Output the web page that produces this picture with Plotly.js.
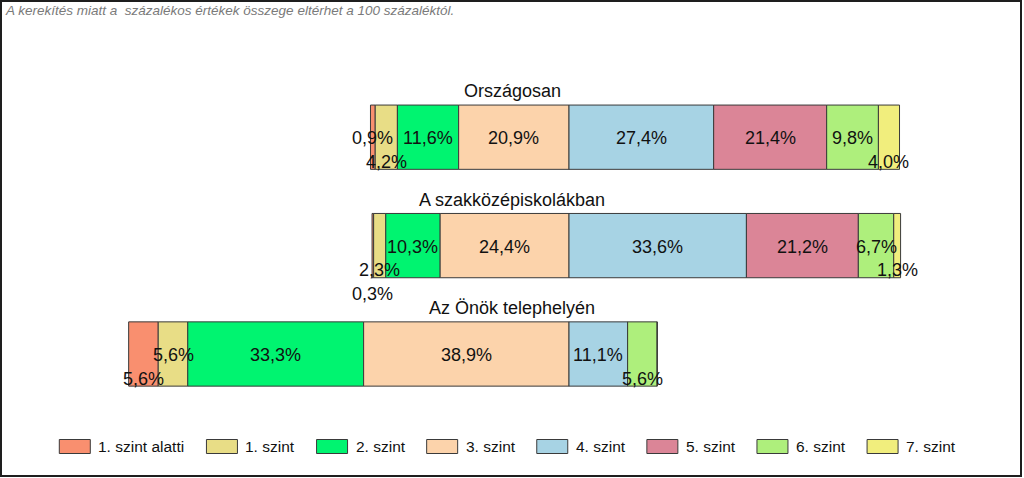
<!DOCTYPE html>
<html><head><meta charset="utf-8">
<script src="https://cdn.plot.ly/plotly-3.0.1.min.js"></script>
<style>html,body{margin:0;padding:0;background:#fff}#chart{width:1024px;height:478px}</style>
</head><body><div id="chart"></div>
<script>
// ---- data ----
const rows = ['Országosan', 'A szakközépiskolákban', 'Az Önök telephelyén'];
const levelNames = ['1. szint alatti', '1. szint', '2. szint', '3. szint', '4. szint', '5. szint', '6. szint', '7. szint'];
const below1 = [0.9, 0.3, 5.6];
const level1 = [4.2, 2.3, 5.6];
const level2 = [11.6, 10.3, 33.3];
const level3 = [20.9, 24.4, 38.9];
const level4 = [27.4, 33.6, 11.1];
const level5 = [21.4, 21.2, 0];
const level6 = [9.8, 6.7, 5.6];
const level7 = [4.0, 1.3, 0];
const note = 'A kerekítés miatt a  százalékos értékek összege eltérhet a 100 százaléktól.';

// ---- style / layout ----
const series = [below1, level1, level2, level3, level4, level5, level6, level7];
const colors = ['#F98F6F', '#E8DD86', '#00F470', '#FCD3AB', '#A7D3E4', '#DB8597', '#AEEF7C', '#F1EE7D'];
const alignCount = 4; // bars aligned at the 3./4. szint boundary
const FONT = '"Liberation Sans", Arial, sans-serif';
const W = 1024, H = 478;
const M = {l: 0, r: 0, t: 83, b: 66};
const plotW = W - M.l - M.r, plotH = H - M.t - M.b;
const pxPerUnit = 5.28, zeroPx = 569;
const xr = [(M.l - zeroPx) / pxPerUnit, (W - M.r - zeroPx) / pxPerUnit];
const xpx = v => M.l + (v - xr[0]) / (xr[1] - xr[0]) * plotW;
const px2x = p => (p - M.l) / plotW;
const px2y = p => (H - M.b - p) / plotH;
const fmt = v => v.toFixed(1).replace('.', ',') + '%';

const ctx = document.createElement('canvas').getContext('2d');
function measure(t, size) { ctx.font = size + 'px "Liberation Sans"'; return ctx.measureText(t).width; }

// bases
const bases = series.map(() => rows.map(() => 0));
rows.forEach((r, ri) => {
  let off = 0;
  for (let k = 0; k < alignCount; k++) off -= series[k][ri];
  let acc = off;
  series.forEach((s, k) => { bases[k][ri] = acc; acc += s[ri]; });
});

const traces = series.map((s, k) => ({
  type: 'bar', orientation: 'h', y: rows, x: s, base: bases[k],
  name: levelNames[k], width: 0.593,
  marker: {color: colors[k], line: {color: '#3a3a3a', width: 1}},
  hoverinfo: 'skip', showlegend: false
}));

const annotations = [];
const LBL = 18, LEVEL_STEP = 23.5;
rows.forEach((r, ri) => {
  const items = [];
  series.forEach((s, k) => {
    const v = s[ri];
    if (!v) return;
    const t = fmt(v);
    const cx = bases[k][ri] + v / 2;
    const w = measure(t, LBL);
    const c = xpx(cx);
    items.push({k, v, t, cx, a: c - w / 2, b: c + w / 2});
  });
  items.sort((p, q) => (q.v - p.v) || (q.k - p.k));
  const placed = [];
  items.forEach(it => {
    let lev = 0;
    while (placed[lev] && placed[lev].some(([a, b]) => it.a < b && it.b > a)) lev++;
    (placed[lev] = placed[lev] || []).push([it.a, it.b]);
    annotations.push({x: it.cx, y: r, xref: 'x', yref: 'y', text: it.t, showarrow: false,
      xanchor: 'center', yanchor: 'middle', yshift: -LEVEL_STEP * lev - 1,
      font: {family: FONT, size: LBL, color: '#111'}});
  });
  annotations.push({x: 0.5, y: r, xref: 'paper', yref: 'y', text: r, showarrow: false,
    xanchor: 'center', yanchor: 'middle', yshift: 46, font: {family: FONT, size: 18, color: '#111'}});
});

annotations.push({x: px2x(3), y: px2y(10), xref: 'paper', yref: 'paper', text: '<i>' + note + '</i>', showarrow: false,
  xanchor: 'left', yanchor: 'middle', font: {family: FONT, size: 13.5, color: '#7a7a7a'}});

const shapes = [{type: 'rect', xref: 'paper', yref: 'paper', x0: px2x(1), x1: px2x(1021), y0: px2y(1), y1: px2y(476),
  line: {color: '#1e1e1e', width: 2}, fillcolor: 'rgba(0,0,0,0)', layer: 'above'}];

// legend
const LEG = 15.5;
let lx = 59.3;
const ly0 = 439.5, ly1 = 453.5;
levelNames.forEach((n, k) => {
  shapes.push({type: 'rect', xref: 'paper', yref: 'paper', x0: px2x(lx), x1: px2x(lx + 31), y0: px2y(ly0), y1: px2y(ly1),
    line: {color: '#3a3a3a', width: 1}, fillcolor: colors[k]});
  annotations.push({x: px2x(lx + 38), y: px2y((ly0 + ly1) / 2), xref: 'paper', yref: 'paper', text: n, showarrow: false,
    xanchor: 'left', yanchor: 'middle', xshift: -1, font: {family: FONT, size: LEG, color: '#111'}});
  lx += 38 + measure(n, LEG) + 23;
});

const layout = {
  width: W, height: H, margin: M, paper_bgcolor: '#fff', plot_bgcolor: '#fff',
  barmode: 'overlay', showlegend: false,
  xaxis: {range: xr, visible: false, fixedrange: true},
  yaxis: {type: 'category', autorange: 'reversed', visible: false, fixedrange: true},
  annotations, shapes, font: {family: FONT}
};
Plotly.newPlot('chart', traces, layout, {displayModeBar: false, staticPlot: true});
</script></body></html>
